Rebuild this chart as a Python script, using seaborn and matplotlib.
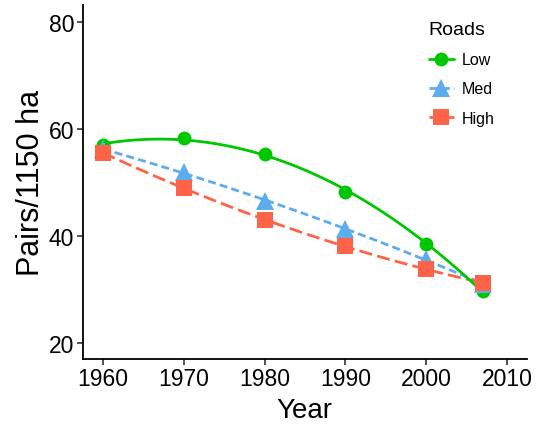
import matplotlib
matplotlib.use("Agg")
import matplotlib.pyplot as plt
from matplotlib.lines import Line2D
import seaborn as sns
import pandas as pd

years = [1960, 1970, 1980, 1990, 2000, 2007]
low = [57.0, 58.3, 55.3, 48.3, 38.4, 29.7]
med = [56.2, 51.9, 46.6, 41.3, 35.6, 31.0]
high = [55.6, 48.9, 43.0, 38.1, 33.8, 31.2]
groups = ["Low", "Med", "High"]

df = pd.DataFrame({
    "Year": years * 3,
    "Pairs": low + med + high,
    "Roads": sum([[g] * len(years) for g in groups], []),
})

sns.set_theme(style="ticks")
plt.rcParams["font.family"] = ["Liberation Sans", "DejaVu Sans"]
plt.rcParams["text.color"] = "black"

colors = {"Low": "#00C800", "Med": "#5CACEE", "High": "#FF6347"}
markers = {"Low": "o", "Med": "^", "High": "s"}
msizes = {"Low": 10, "Med": 12.5, "High": 11}
dashes = {"Low": (None, None), "Med": (2.9, 1.5), "High": (4.7, 1.9)}
line_z = {"Low": 3, "Med": 2, "High": 2.5}

fig = plt.figure(figsize=(5.4, 4.31), dpi=100)
ax = fig.add_axes([0.153, 0.165, 0.822, 0.821])

for g in groups:
    sub = df[df["Roads"] == g]
    kw = dict(color=colors[g], lw=2.0, zorder=line_z[g], solid_capstyle="butt")
    if g != "Low":
        kw["dashes"] = dashes[g]
    sns.regplot(data=sub, x="Year", y="Pairs", order=2, ci=None, scatter=False,
                truncate=True, ax=ax, line_kws=kw)

for i, g in enumerate(groups):
    sub = df[df["Roads"] == g]
    ax.plot(sub["Year"], sub["Pairs"], linestyle="none", marker=markers[g],
            markersize=msizes[g], color=colors[g], markeredgewidth=0, zorder=5 + i)

ax.set_xlim(1957.5, 2012.4)
ax.set_ylim(17.0, 83.2)
ax.set_xticks([1960, 1970, 1980, 1990, 2000, 2010])
ax.set_yticks([20, 40, 60, 80])
ax.set_xlabel("Year", fontsize=20, color="black", labelpad=5)
ax.set_ylabel("Pairs/1150 ha", fontsize=22, color="black", labelpad=2)
ax.tick_params(axis="both", labelsize=16.5, colors="#222222", length=4, width=1.1,
               labelcolor="black", pad=2)
for s in ["top", "right"]:
    ax.spines[s].set_visible(False)
for s in ["left", "bottom"]:
    ax.spines[s].set_color("black")
    ax.spines[s].set_linewidth(1.3)

handles = []
for g in groups:
    h = Line2D([0], [0], color=colors[g], lw=2.0, marker=markers[g],
               markersize=msizes[g], markeredgewidth=0)
    if g != "Low":
        h.set_dashes(dashes[g])
    handles.append(h)
leg = ax.legend(handles, groups, title="Roads", frameon=False, fontsize=11.5,
                title_fontsize=14, loc="upper left",
                bbox_to_anchor=(0.782, 0.963), bbox_transform=fig.transFigure,
                handlelength=1.6, handletextpad=0.5, labelspacing=0.88,
                borderaxespad=0, labelcolor="black")
leg.get_title().set_color("black")
leg._legend_box.align = "left"

fig.savefig("out.png", dpi=100)
